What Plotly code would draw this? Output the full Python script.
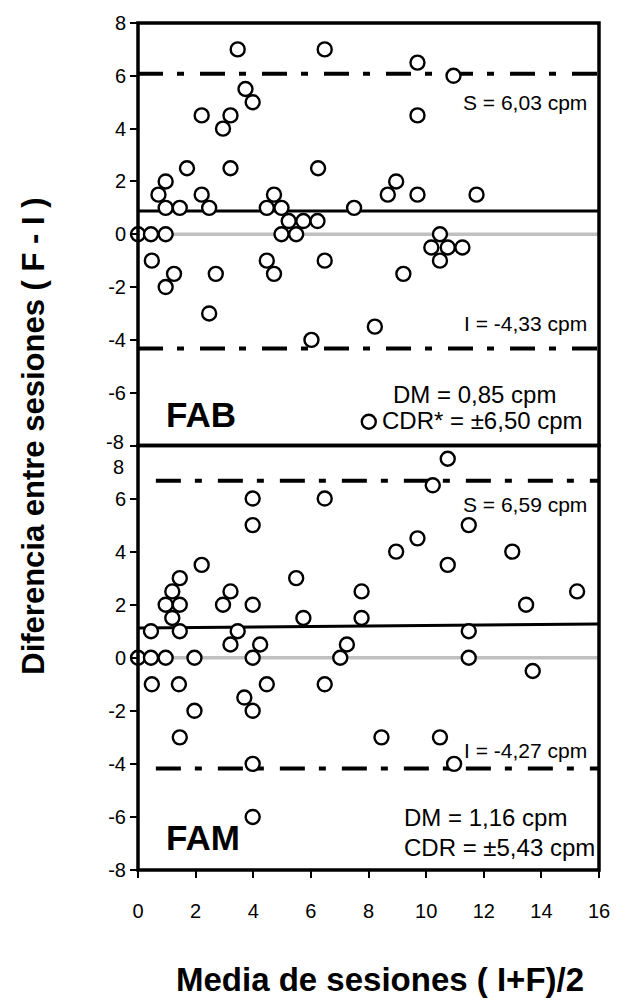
import plotly.graph_objects as go

# ---------------- data ----------------
fab_x = [3.46, 6.48, 9.70, 10.95, 3.73, 3.98, 2.21, 3.21, 2.95, 9.70,
         1.70, 3.21, 6.25, 0.96, 0.71, 2.21, 4.72, 8.67, 8.96, 9.70,
         11.75, 0.96, 1.45, 2.47, 4.47, 4.98, 7.50, 5.23, 5.74, 6.23,
         0.00, 0.45, 0.96, 4.98, 5.49, 10.48, 0.48, 1.25, 0.96, 2.70,
         4.47, 4.72, 6.48, 9.21, 10.18, 10.75, 11.26, 10.48, 2.47, 8.22,
         6.02, 8.01]
fab_y = [7.0, 7.0, 6.5, 6.0, 5.5, 5.0, 4.5, 4.5, 4.0, 4.5,
         2.5, 2.5, 2.5, 2.0, 1.5, 1.5, 1.5, 1.5, 2.0, 1.5,
         1.5, 1.0, 1.0, 1.0, 1.0, 1.0, 1.0, 0.5, 0.5, 0.5,
         0.0, 0.0, 0.0, 0.0, 0.0, 0.0, -1.0, -1.5, -2.0, -1.5,
         -1.0, -1.5, -1.0, -1.5, -0.5, -0.5, -0.5, -1.0, -3.0, -3.5,
         -4.0, -7.1]

fam_x = [10.75, 10.23, 3.98, 6.48, 3.98, 11.48, 9.70, 8.96, 12.99, 10.75,
         2.21, 1.45, 5.49, 1.19, 3.21, 7.76, 15.24, 0.96, 1.45, 2.95,
         3.98, 13.47, 1.19, 5.74, 7.76, 0.45, 1.45, 3.46, 11.48, 3.21,
         4.24, 7.25, 0.00, 0.45, 0.96, 1.96, 3.98, 7.02, 11.48, 13.70,
         0.48, 1.42, 4.47, 6.48, 3.69, 3.98, 1.96, 1.45, 8.45, 10.48,
         3.98, 10.97, 3.98]
fam_y = [7.5, 6.5, 6.0, 6.0, 5.0, 5.0, 4.5, 4.0, 4.0, 3.5,
         3.5, 3.0, 3.0, 2.5, 2.5, 2.5, 2.5, 2.0, 2.0, 2.0,
         2.0, 2.0, 1.5, 1.5, 1.5, 1.0, 1.0, 1.0, 1.0, 0.5,
         0.5, 0.5, 0.0, 0.0, 0.0, 0.0, 0.0, 0.0, 0.0, -0.5,
         -1.0, -1.0, -1.0, -1.0, -1.5, -2.0, -2.0, -3.0, -3.0, -3.0,
         -4.0, -4.0, -6.0]

# reference lines
fab_line_x = [0, 16]
fab_mean_y = [0.88, 0.88]
fab_sup_y = [6.08, 6.08]
fab_inf_y = [-4.33, -4.33]

fam_mean_x = [0, 16]
fam_mean_y = [1.12, 1.27]
fam_lim_x = [0.62, 16]
fam_sup_y = [6.67, 6.67]
fam_inf_y = [-4.17, -4.17]

zero_x = [0, 16]
zero_y = [0, 0]

x_ticks = [0, 2, 4, 6, 8, 10, 12, 14, 16]
y_ticks = [-8, -6, -4, -2, 0, 2, 4, 6, 8]
top_ticktext = ["", "-6", "-4", "-2", "0", "2", "4", "6", "8"]
bot_ticktext = ["-8", "-6", "-4", "-2", "0", "2", "4", "6", ""]

FONT = "Arial, Liberation Sans, sans-serif"
DASH = "25px,14px,7px,16px"
TICK_SIZE = 20

fig = go.Figure()

def add_panel(ya, mx, my, mean_x, mean_y, lim_x, sup_y, inf_y):
    fig.add_trace(go.Scatter(x=zero_x, y=zero_y, mode="lines", yaxis=ya,
                             line=dict(color="#c0c0c0", width=3.5), hoverinfo="skip"))
    fig.add_trace(go.Scatter(x=lim_x, y=sup_y, mode="lines", yaxis=ya,
                             line=dict(color="black", width=4, dash=DASH), hoverinfo="skip"))
    fig.add_trace(go.Scatter(x=lim_x, y=inf_y, mode="lines", yaxis=ya,
                             line=dict(color="black", width=4, dash=DASH), hoverinfo="skip"))
    fig.add_trace(go.Scatter(x=mean_x, y=mean_y, mode="lines", yaxis=ya,
                             line=dict(color="black", width=3), hoverinfo="skip"))
    fig.add_trace(go.Scatter(x=mx, y=my, mode="markers", yaxis=ya, cliponaxis=False,
                             marker=dict(symbol="circle", size=14, color="white",
                                         line=dict(color="black", width=2.4))))

add_panel("y", fab_x, fab_y, fab_line_x, fab_mean_y, fab_line_x, fab_sup_y, fab_inf_y)
add_panel("y2", fam_x, fam_y, fam_mean_x, fam_mean_y, fam_lim_x, fam_sup_y, fam_inf_y)

split = (870 - 444) / 850.0

yax_common = dict(range=[-8, 8], tickvals=y_ticks, ticks="outside", ticklen=7,
                  tickwidth=2, tickcolor="black", showgrid=False, zeroline=False,
                  showline=False, anchor="x",
                  tickfont=dict(family=FONT, size=TICK_SIZE, color="black"))

fig.update_layout(
    width=622, height=1000,
    margin=dict(l=138, r=15, t=20, b=130),
    paper_bgcolor="white", plot_bgcolor="white",
    showlegend=False,
    xaxis=dict(range=[0, 16], tickvals=x_ticks, ticks="outside", ticklen=7,
               tickwidth=2, tickcolor="black", showgrid=False, zeroline=False,
               showline=False, anchor="y2", ticklabelstandoff=16,
               tickfont=dict(family=FONT, size=TICK_SIZE, color="black")),
    yaxis=dict(domain=[split, 1], ticktext=top_ticktext, **yax_common),
    yaxis2=dict(domain=[0, split], ticktext=bot_ticktext, **yax_common),
)

# panel frames
for yr in ["y domain", "y2 domain"]:
    fig.add_shape(type="rect", xref="x domain", yref=yr, x0=0, x1=1, y0=0, y1=1,
                  line=dict(color="black", width=3.5), layer="above")

ann = []
def txt(x, y, t, size, yref="y", xanchor="left", bold=False, xref="x", angle=0):
    ann.append(dict(x=x, y=y, xref=xref, yref=yref, text=t, showarrow=False,
                    xanchor=xanchor, yanchor="middle", textangle=angle,
                    font=dict(family=FONT, size=size, color="black",
                              weight="bold" if bold else "normal")))

# top panel texts
txt(15.65, 5.0, "S = 6,03 cpm", 21, xanchor="right")
txt(15.65, -3.39, "I = -4,33 cpm", 21, xanchor="right")
txt(8.79, -6.08, "DM = 0,85 cpm", 24)
txt(8.41, -7.06, "CDR* = ±6,50 cpm", 24)
txt(0.9, -6.84, "FAB", 35, bold=True)
# bottom panel texts
txt(15.65, 5.79, "S = 6,59 cpm", 21, yref="y2", xanchor="right")
txt(15.65, -3.5, "I = -4,27 cpm", 21, yref="y2", xanchor="right")
txt(9.16, -6.02, "DM = 1,16 cpm", 24, yref="y2")
txt(9.16, -7.14, "CDR = ±5,43 cpm", 24, yref="y2")
txt(0.9, -6.77, "FAM", 35, yref="y2", bold=True)

# shifted -8 / 8 labels at the panel junction
ann.append(dict(x=-0.027, y=-7.85, xref="paper", yref="y", text="-8", showarrow=False,
                xanchor="right", yanchor="middle",
                font=dict(family=FONT, size=TICK_SIZE, color="black")))
ann.append(dict(x=-0.027, y=7.2, xref="paper", yref="y2", text="8", showarrow=False,
                xanchor="right", yanchor="middle",
                font=dict(family=FONT, size=TICK_SIZE, color="black")))

# axis titles
ann.append(dict(x=(32 - 138.5) / 468.5, y=(870 - 435) / 850.0, xref="paper", yref="paper",
                text="Diferencia entre sesiones ( F - I )", showarrow=False, textangle=-90,
                xanchor="center", yanchor="middle",
                font=dict(family=FONT, size=31, color="black", weight="bold")))
ann.append(dict(x=(384 - 138.5) / 468.5, y=(870 - 980) / 850.0, xref="paper", yref="paper",
                text="Media de sesiones ( I+F)/2", showarrow=False,
                xanchor="center", yanchor="middle",
                font=dict(family=FONT, size=33, color="black", weight="bold")))

fig.update_layout(annotations=ann)
fig.write_html("out.html")
